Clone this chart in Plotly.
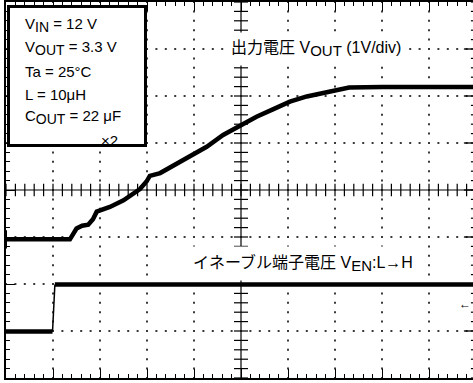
import plotly.graph_objects as go

# ---- data (oscilloscope divisions: x 0..10 div, y -4..4 div) ----
vout_t = [0.00, 1.36, 1.50, 1.62, 1.75, 1.85, 1.93, 2.21, 2.50, 2.85, 2.99, 3.06, 3.28,
          3.91, 4.27, 4.62, 4.98, 5.33, 5.69, 6.04, 6.40, 6.75, 7.11, 7.30, 8.00,
          9.00, 10.00]
vout_v = [-1.05, -1.05, -0.82, -0.76, -0.74, -0.62, -0.46, -0.36, -0.22, 0.02, 0.18, 0.30, 0.36,
          0.71, 0.92, 1.17, 1.38, 1.56, 1.72, 1.88, 1.99, 2.07, 2.14, 2.18, 2.19,
          2.19, 2.19]

en_t = [0.00, 0.99, 1.04, 10.00]
en_v = [-3.01, -3.01, -2.01, -2.01]

box_lines = ["V<sub><span style='font-size:14px'>IN</span></sub> = 12 V",
             "V<sub><span style='font-size:14px'>OUT</span></sub> = 3.3 V",
             "Ta = 25°C",
             "L = 10μH",
             "C<sub><span style='font-size:14px'>OUT</span></sub> = 22 μF"]
box_tail = "×2"
label_vout = "出力電圧 V<sub><span style='font-size:15px'>OUT</span></sub> (1V/div)"
label_en = "イネーブル端子電圧 V<sub><span style='font-size:15px'>EN</span></sub>:L→H"

W, H = 473, 383
L, T, B = 6, 2, 5
DIV = 47.0
XMAX = (W - L) / DIV


def xd(px):
    return (px - L) / DIV


def yd(py):
    return (190 - py) / DIV


FONT = "Arial, 'Liberation Sans', 'Noto Sans CJK JP', sans-serif"

fig = go.Figure()

# dotted graticule (dots every 0.2 div on each major division line)
step_x = [i * 0.2 for i in range(0, 51)]
step_y = [-4 + i * 0.2 for i in range(0, 41)]
gx, gy = [], []
for xv in [1, 2, 3, 4, 6, 7, 8, 9]:
    gx += [xv] * len(step_y)
    gy += step_y
for yv in [-3, -2, -1, 1, 2, 3]:
    gx += step_x
    gy += [yv] * len(step_x)
fig.add_trace(go.Scatter(x=gx, y=gy, mode="markers",
                         marker=dict(symbol="square", size=2.0, color="#3a3a3a",
                                     opacity=1),
                         hoverinfo="skip", showlegend=False))

# center cross tick marks
fig.add_trace(go.Scatter(x=step_x, y=[0] * len(step_x), mode="markers",
                         marker=dict(symbol="line-ns", size=9, color="black",
                                     line=dict(width=1.2, color="black")),
                         hoverinfo="skip", showlegend=False))
fig.add_trace(go.Scatter(x=[5] * len(step_y), y=step_y, mode="markers",
                         marker=dict(symbol="line-ew", size=10, color="black",
                                     line=dict(width=1.2, color="black")),
                         hoverinfo="skip", showlegend=False))
# right edge (border lies just outside the picture) ticks
fig.add_trace(go.Scatter(x=[XMAX] * len(step_y), y=step_y, mode="markers",
                         marker=dict(symbol="line-ew", size=3, color="black",
                                     line=dict(width=1.2, color="black")),
                         hoverinfo="skip", showlegend=False))
fig.add_trace(go.Scatter(x=[XMAX] * 7, y=[-3 + i for i in range(7)], mode="markers",
                         marker=dict(symbol="line-ew", size=13, color="black",
                                     line=dict(width=1.3, color="black")),
                         hoverinfo="skip", showlegend=False))

# signals
fig.add_trace(go.Scatter(x=vout_t, y=vout_v, mode="lines",
                         line=dict(color="black", width=4.5),
                         hoverinfo="skip", showlegend=False))
# trace start marker at the left edge
fig.add_trace(go.Scatter(x=[vout_t[0]], y=[vout_v[0]], mode="markers",
                         marker=dict(symbol="line-ns", size=13, color="black",
                                     line=dict(width=2, color="black")),
                         hoverinfo="skip", showlegend=False))
fig.add_trace(go.Scatter(x=en_t[0:2], y=en_v[0:2], mode="lines",
                         line=dict(color="black", width=4.5),
                         hoverinfo="skip", showlegend=False))
fig.add_trace(go.Scatter(x=en_t[1:3], y=en_v[1:3], mode="lines",
                         line=dict(color="black", width=1.5),
                         hoverinfo="skip", showlegend=False))
fig.add_trace(go.Scatter(x=en_t[2:4], y=en_v[2:4], mode="lines",
                         line=dict(color="black", width=4.5),
                         hoverinfo="skip", showlegend=False))

shapes = [
    dict(type="line", xref="x", yref="y", x0=5, x1=5, y0=-4, y1=4,
         line=dict(color="black", width=1.2), layer="below"),
    dict(type="line", xref="x", yref="y", x0=0, x1=10, y0=0, y1=0,
         line=dict(color="black", width=1.2), layer="below"),
    dict(type="rect", xref="x", yref="y", x0=xd(8.5), x1=xd(145.5),
         y0=yd(145.5), y1=yd(6.5), line=dict(color="black", width=3),
         fillcolor="white", layer="above"),
]

annotations = []
ys = [25, 48, 71, 94, 117]
for txt, py in zip(box_lines, ys):
    annotations.append(dict(x=xd(23), y=yd(py), xref="x", yref="y", text=txt,
                            showarrow=False, xanchor="left", yanchor="middle",
                            font=dict(family=FONT, size=15, color="black")))
annotations.append(dict(x=xd(99), y=yd(140), xref="x", yref="y", text=box_tail,
                        showarrow=False, xanchor="left", yanchor="middle",
                        font=dict(family=FONT, size=15, color="black")))
annotations.append(dict(x=xd(224), y=yd(49), xref="x", yref="y", text=label_vout,
                        showarrow=False, xanchor="left", yanchor="middle",
                        bgcolor="white", borderpad=6,
                        font=dict(family=FONT, size=16, color="black")))
annotations.append(dict(x=xd(186), y=yd(263), xref="x", yref="y", text=label_en,
                        showarrow=False, xanchor="left", yanchor="middle",
                        bgcolor="white", borderpad=6,
                        font=dict(family=FONT, size=16, color="black")))
annotations.append(dict(x=xd(473), y=yd(304), xref="x", yref="y", text="←",
                        showarrow=False, xanchor="right", yanchor="middle",
                        font=dict(family=FONT, size=12, color="black")))

axis_common = dict(showticklabels=False, showline=True, linecolor="black", linewidth=1.5,
                   ticks="inside", ticklen=9, tickwidth=1.2, tickcolor="black",
                   showgrid=False, zeroline=False, fixedrange=True)

fig.update_layout(
    width=W, height=H,
    margin=dict(l=L, r=0, t=T, b=B, pad=0),
    paper_bgcolor="white", plot_bgcolor="white",
    shapes=shapes, annotations=annotations, showlegend=False,
    xaxis=dict(range=[0, XMAX], tick0=0, dtick=1, mirror="ticks",
               minor=dict(ticks="inside", ticklen=4, tickwidth=1, tickcolor="black",
                          tick0=0, dtick=0.2, showgrid=False),
               **axis_common),
    yaxis=dict(range=[-4, 4], tick0=-4, dtick=1, mirror=False,
               minor=dict(ticks="inside", ticklen=4, tickwidth=1, tickcolor="black",
                          tick0=-4, dtick=0.2, showgrid=False),
               **axis_common),
)

fig.write_html("out.html", config={"displayModeBar": False},
               post_script="document.body.style.margin='0px';document.body.style.padding='0px';")
